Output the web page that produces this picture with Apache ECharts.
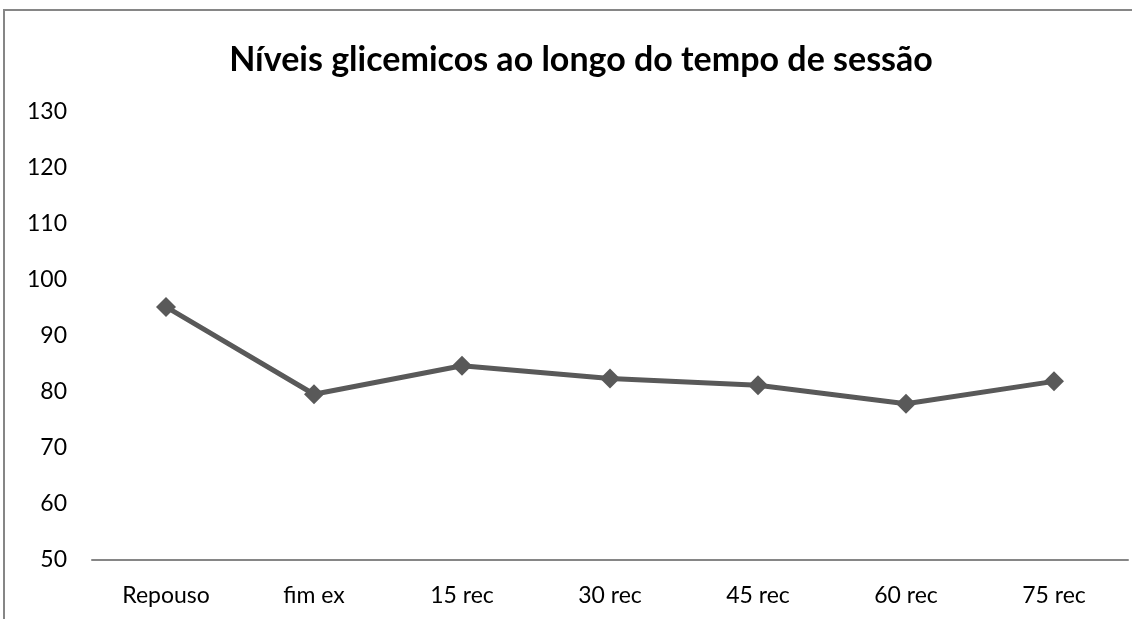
<!DOCTYPE html>
<html>
<head>
<meta charset="utf-8">
<script src="https://cdn.jsdelivr.net/npm/echarts@6/dist/echarts.min.js"></script>
<style>
html,body{margin:0;padding:0;background:#fff;}
#chart{width:1132px;height:619px;}
</style>
</head>
<body>
<div id="chart"></div>
<script>
const titleText = 'Níveis glicemicos ao longo do tempo de sessão';
const categories = ['Repouso', 'fim ex', '15 rec', '30 rec', '45 rec', '60 rec', '75 rec'];
const glucose = [95.2, 79.6, 84.7, 82.4, 81.2, 77.9, 81.9];
const yMin = 50, yMax = 130, yStep = 10;

const chart = echarts.init(document.getElementById('chart'), null, {renderer: 'canvas'});
chart.setOption({
  animation: false,
  backgroundColor: '#fff',
  textStyle: {fontFamily: 'Lato'},
  title: {
    text: titleText,
    left: 576, top: 38, textAlign: 'center',
    textStyle: {fontFamily: 'Lato', fontWeight: 'bold', fontSize: 34, color: '#000'}
  },
  graphic: [{
    type: 'polyline',
    shape: {points: [[4, 640], [4, 10], [1140, 10]]},
    style: {stroke: '#868686', lineWidth: 2, fill: null},
    silent: true
  }],
  grid: {left: 92, top: 112, width: 1036, height: 448, containLabel: false},
  xAxis: {
    type: 'category',
    data: categories,
    boundaryGap: true,
    axisLine: {lineStyle: {color: '#868686', width: 2}},
    axisTick: {show: false},
    axisLabel: {color: '#000', fontSize: 23, margin: 24, fontFamily: 'Lato'}
  },
  yAxis: {
    type: 'value',
    min: yMin, max: yMax, interval: yStep,
    axisLine: {show: false},
    axisTick: {show: false},
    splitLine: {show: false},
    axisLabel: {color: '#000', fontSize: 23, margin: 25, fontFamily: 'Lato'}
  },
  series: [{
    type: 'line',
    data: glucose,
    symbol: 'diamond',
    symbolSize: 20,
    itemStyle: {color: '#595959'},
    lineStyle: {color: '#595959', width: 5}
  }]
});
</script>
</body>
</html>
